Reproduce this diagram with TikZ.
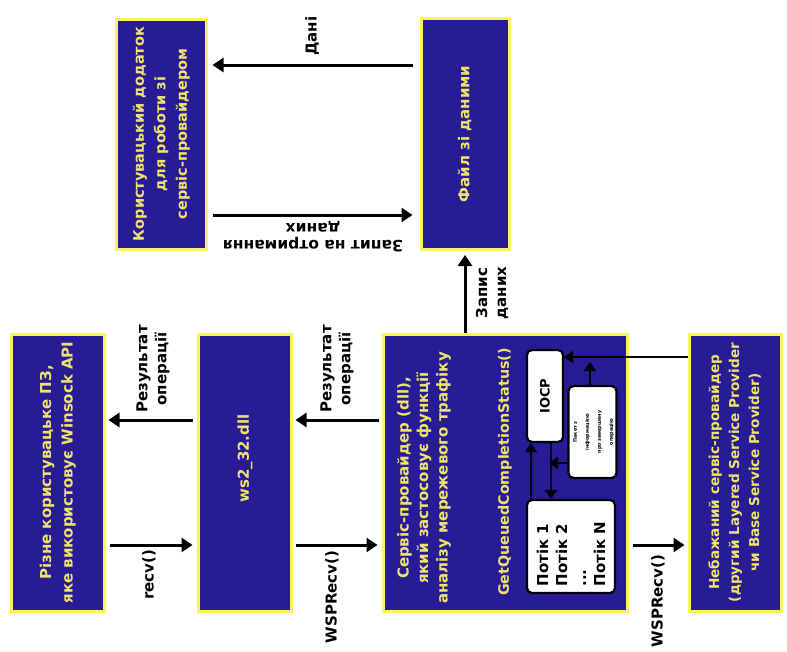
\documentclass[tikz,border=0pt]{standalone}
\usepackage{fontspec}
\usepackage{graphicx}
\setmainfont{DejaVu Sans}
\usetikzlibrary{arrows.meta}

\definecolor{boxblue}{RGB}{40,27,150}
\definecolor{boxedge}{RGB}{250,244,96}
\definecolor{boxtext}{RGB}{238,228,108}

% stacked lines turned a quarter turn, for text inside the blocks
\newcommand\vlines[1]{\rotatebox{90}{\begin{tabular}{@{}c@{}}#1\end{tabular}}}

\begin{document}
\begin{tikzpicture}[x=1pt,y=-1pt,
  blockbox/.style={draw=boxedge, line width=3pt, fill=boxblue, text=boxtext,
    font=\bfseries\fontsize{15}{21.5}\selectfont, inner sep=0pt},
  whitebox/.style={draw=black, line width=2.2pt, fill=white, rounded corners=5pt, inner sep=0pt},
  arr/.style={line width=3pt, -{Triangle[length=11pt,width=14pt]}},
  iarr/.style={line width=2.8pt, -{Triangle[length=9pt,width=12pt]}},
  lbl/.style={font=\bfseries\fontsize{15}{19}\selectfont, align=center, rotate=90},
  sptext/.style={text=boxtext, font=\bfseries\fontsize{15}{19.5}\selectfont, align=center, rotate=90}
]
\useasboundingbox (0,0) rectangle (787,651);
\fill[white] (0,0) rectangle (787,651);

% ---- blocks ----
\node[blockbox, minimum width=90pt, minimum height=230pt,
  font=\bfseries\fontsize{14.5}{21.5}\selectfont] (app) at (161,134)
  {\vlines{Користувацький додаток\\для роботи зі\\сервіс-провайдером}};
\node[blockbox, minimum width=88pt, minimum height=231pt] (file) at (465,134)
  {\vlines{Файл зі даними}};
\node[blockbox, minimum width=93pt, minimum height=277pt] (soft) at (57.5,472.5)
  {\vlines{Різне користувацьке ПЗ,\\яке використовує Winsock API}};
\node[blockbox, minimum width=93pt, minimum height=277pt] (ws) at (244.5,472.5)
  {\vlines{\hspace*{28pt}ws2\_32.dll}};
\node[blockbox, minimum width=244pt, minimum height=277pt] (sp) at (505,472.5) {};
\node[blockbox, minimum width=92pt, minimum height=277pt,
  font=\bfseries\fontsize{13.6}{20}\selectfont] (lsp) at (735,472.5)
  {\vlines{Небажаний сервіс-провайдер\\(другий Layered Service Provider\\чи Base Service Provider)}};

% ---- contents of the service provider ----
\node[sptext] (sptitle) at (424,478)
  {Сервіс-провайдер (dll),\\який застосовує функції\\аналізу мережевого трафіку};
\node[sptext, font=\bfseries\fontsize{14.3}{18}\selectfont] (gqcs) at (505,472) {GetQueuedCompletionStatus()};

\node[whitebox, minimum width=36pt, minimum height=92pt] (iocp) at (545,396)
  {\rotatebox{90}{\bfseries\fontsize{13}{15}\selectfont IOCP}};
\node[whitebox, minimum width=45pt, minimum height=92pt] (pkt) at (592.5,432)
  {\rotatebox{90}{\begin{tabular}{@{}c@{}}\bfseries\fontsize{4.8}{6.8}\selectfont Пакет з\\
   \bfseries\fontsize{4.8}{6.8}\selectfont інформацією\\
   \bfseries\fontsize{4.8}{6.8}\selectfont про завершену\\
   \bfseries\fontsize{4.8}{6.8}\selectfont операцію\end{tabular}}};
\node[whitebox, minimum width=88pt, minimum height=93pt] (thr) at (571,546.5) {};
\node[rotate=90, anchor=west, align=left, font=\bfseries\fontsize{15}{19}\selectfont]
  (thrtext) at (571,590) {Потік 1\\Потік 2\\...\\Потік N};

% ---- rows and columns used by the connectors ----
\coordinate (r1) at (0,65);
\coordinate (r2) at (0,215);
\coordinate (r3) at (0,420);
\coordinate (r4) at (0,545);
\coordinate (r5) at (0,357);
\coordinate (r6) at (0,463);
\coordinate (c1) at (531,0);
\coordinate (c2) at (551,0);
\coordinate (c3) at (590,0);
\coordinate (c4) at (465,0);

% ---- connectors between blocks ----
\draw[arr, shorten <=7pt, shorten >=5pt] (file.west |- r1) -- (app.east |- r1);
\draw[arr, shorten <=5pt, shorten >=7pt] (app.east |- r2) -- (file.west |- r2);
\draw[arr, shorten >=4pt] (sp.north -| c4) -- (file.south -| c4);
\draw[arr, shorten <=4pt, shorten >=3pt] (ws.west |- r3) -- (soft.east |- r3);
\draw[arr, shorten <=4pt, shorten >=4pt] (soft.east |- r4) -- (ws.west |- r4);
\draw[arr, shorten <=3pt, shorten >=3pt] (sp.west |- r3) -- (ws.east |- r3);
\draw[arr, shorten <=3pt, shorten >=4pt] (ws.east |- r4) -- (sp.west |- r4);
\draw[arr, shorten <=4pt, shorten >=3pt] (sp.east |- r4) -- (lsp.west |- r4);

% ---- connectors inside the service provider ----
\draw[iarr] (lsp.west |- r5) -- (iocp.east |- r5);
\draw[iarr] (thr.north -| c1) -- (iocp.south -| c1);
\draw[iarr] (iocp.south -| c2) -- (thr.north -| c2);
\draw[iarr, shorten >=-2pt] (pkt.west |- r6) -- (c2 |- r6);
\draw[iarr, shorten >=5pt] (pkt.north -| c3) -- (c3 |- r5);

% ---- connector labels ----
\node[lbl] (ldani) at (312,36) {Дані};
\node[font=\bfseries\fontsize{15.5}{17}\selectfont, align=center, rotate=180] (lzapyt) at (313,237)
  {Запит на отримання\\даних};
\node[lbl] (lzapys) at (492,293) {Запис\\даних};
\node[lbl] (lres1) at (153,369) {Результат\\операції};
\node[lbl] (lrecv) at (149,575) {recv()};
\node[lbl] (lres2) at (337,369) {Результат\\операції};
\node[lbl] (lwsp1) at (332,597) {WSPRecv()};
\node[lbl] (lwsp2) at (658,601) {WSPRecv()};
\end{tikzpicture}
\end{document}
